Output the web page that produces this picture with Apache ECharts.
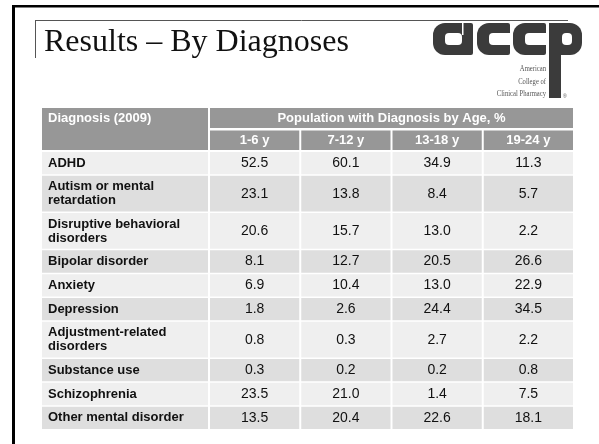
<!DOCTYPE html>
<html>
<head>
<meta charset="utf-8">
<script src="https://cdn.jsdelivr.net/npm/echarts@6/dist/echarts.min.js"></script>
<style>
  html, body { margin: 0; padding: 0; background: #ffffff; }
  #chart { width: 599px; height: 444px; }
</style>
</head>
<body>
<div id="chart"></div>
<script>
// Share of patients with each diagnosis, by age band (2009), in %
const diagnoses = [
  'ADHD',
  'Autism or mental\nretardation',
  'Disruptive behavioral\ndisorders',
  'Bipolar disorder',
  'Anxiety',
  'Depression',
  'Adjustment-related\ndisorders',
  'Substance use',
  'Schizophrenia',
  'Other mental disorder'
];
const ageGroups = ['1-6 y', '7-12 y', '13-18 y', '19-24 y'];
const age1to6   = [52.5, 23.1, 20.6, 8.1, 6.9, 1.8, 0.8, 0.3, 23.5, 13.5];
const age7to12  = [60.1, 13.8, 15.7, 12.7, 10.4, 2.6, 0.3, 0.2, 21.0, 20.4];
const age13to18 = [34.9, 8.4, 13.0, 20.5, 13.0, 24.4, 2.7, 0.2, 1.4, 22.6];
const age19to24 = [11.3, 5.7, 2.2, 26.6, 22.9, 34.5, 2.2, 0.8, 7.5, 18.1];
const firstHeader = 'Diagnosis (2009)';
const groupHeader = 'Population with Diagnosis by Age, %';
const slideTitle = 'Results \u2013 By Diagnoses';
const logoLines = ['American', 'College of', 'Clinical Pharmacy'];

const valueColumns = [age1to6, age7to12, age13to18, age19to24];

// Table geometry in axis units
const labelW = 166, ageW = 89.25, colGap = 2;
const head1H = 20, head1Gap = 2.5, head2H = 19.5, headGap = 2;
const rowGap = 1.5, rowBase = 8.9, lineH = 13.4;

const colX = [[0, labelW]];
for (let i = 0; i < ageGroups.length; i++) {
  const x0 = labelW + colGap + i * (ageW + colGap);
  colX.push([x0, x0 + ageW]);
}
const tableW = colX[colX.length - 1][1];

const cells = [];
// header cells
cells.push({ x0: 0, x1: labelW, y0: 0, y1: head1H + head1Gap + head2H, kind: 'head', text: firstHeader, align: 'left', textY: head1H / 2 });
cells.push({ x0: colX[1][0], x1: tableW, y0: 0, y1: head1H, kind: 'head', text: groupHeader, align: 'center' });
const y2 = head1H + head1Gap;
ageGroups.forEach((g, i) => {
  cells.push({ x0: colX[i + 1][0], x1: colX[i + 1][1], y0: y2, y1: y2 + head2H, kind: 'head', text: g, align: 'center' });
});
// body rows, height follows the number of label lines
let y = y2 + head2H + headGap;
diagnoses.forEach((d, r) => {
  const lines = d.split('\n').length;
  const h = rowBase + lineH * lines;
  const shade = r % 2 === 0 ? 'light' : 'dark';
  cells.push({ x0: colX[0][0], x1: colX[0][1], y0: y, y1: y + h, kind: shade, text: d, align: 'left', bold: true });
  valueColumns.forEach((col, c) => {
    cells.push({ x0: colX[c + 1][0], x1: colX[c + 1][1], y0: y, y1: y + h, kind: shade, text: col[r].toFixed(1), align: 'center' });
  });
  y += h + rowGap;
});
const tableH = y - rowGap;

const fills = { head: '#979797', light: '#efefef', dark: '#dedede' };

const chart = echarts.init(document.getElementById('chart'), null, { renderer: 'canvas' });

const ink = '#3b3b3b';
const logoText = logoLines.map((t, i) => ({
  type: 'text', x: 546, y: 69 + i * 12.5, scaleX: 0.78,
  style: { text: t, font: '8.5px "Liberation Serif", serif', fill: '#555', align: 'right', verticalAlign: 'middle' }
}));

const option = {
  backgroundColor: '#ffffff',
  animation: false,
  grid: { left: 42, top: 108, width: 531, height: 321 },
  xAxis: { type: 'value', min: 0, max: tableW, show: false },
  yAxis: { type: 'value', min: 0, max: tableH, inverse: true, show: false },
  series: [{
    type: 'custom',
    data: cells.map(c => [c.x0, c.y0, c.x1, c.y1]),
    encode: { x: [0, 2], y: [1, 3] },
    renderItem: function (params, api) {
      const c = cells[params.dataIndex];
      const p0 = api.coord([c.x0, c.y0]);
      const p1 = api.coord([c.x1, c.y1]);
      const w = p1[0] - p0[0], h = p1[1] - p0[1];
      const isHead = c.kind === 'head';
      const ty = c.textY != null ? api.coord([0, c.y0 + c.textY])[1] : p0[1] + h / 2;
      const font = isHead || c.bold
        ? 'bold 13px "Liberation Sans", Arial, sans-serif'
        : '14px "Liberation Sans", Arial, sans-serif';
      return {
        type: 'group',
        children: [
          { type: 'rect', shape: { x: p0[0], y: p0[1], width: w, height: h }, style: { fill: fills[c.kind] } },
          {
            type: 'text',
            x: c.align === 'left' ? p0[0] + 6 : p0[0] + w / 2,
            y: ty,
            style: {
              text: c.text,
              fill: isHead ? '#ffffff' : '#111111',
              font: font,
              align: c.align,
              verticalAlign: 'middle',
              lineHeight: 14
            }
          }
        ]
      };
    }
  }],
  graphic: [
    // slide frame
    { type: 'rect', shape: { x: 12, y: 5, width: 587, height: 2.5 }, style: { fill: '#000' } },
    { type: 'rect', shape: { x: 12, y: 5, width: 3, height: 439 }, style: { fill: '#000' } },
    // title frame
    { type: 'line', shape: { x1: 35, y1: 20.5, x2: 568, y2: 20.5 }, style: { stroke: '#555', lineWidth: 1 } },
    { type: 'line', shape: { x1: 35.5, y1: 20, x2: 35.5, y2: 58 }, style: { stroke: '#555', lineWidth: 1 } },
    { type: 'text', x: 44, y: 43, style: { text: slideTitle, font: '32px "Liberation Serif", "Times New Roman", serif', fill: '#111', verticalAlign: 'middle' } },
    // logo
    { type: 'rect', shape: { x: 433, y: 23, width: 40, height: 32, r: [12, 2, 2, 12] }, style: { fill: ink } },
    { type: 'rect', shape: { x: 445, y: 33, width: 17, height: 12, r: 4 }, style: { fill: '#fff' } },
    { type: 'rect', shape: { x: 462, y: 23, width: 1.5, height: 12 }, style: { fill: '#fff' } },
    { type: 'rect', shape: { x: 477, y: 23, width: 33, height: 32, r: [12, 2, 2, 12] }, style: { fill: ink } },
    { type: 'rect', shape: { x: 489, y: 33, width: 22, height: 12, r: [4, 0, 0, 4] }, style: { fill: '#fff' } },
    { type: 'rect', shape: { x: 513, y: 23, width: 33, height: 32, r: [12, 2, 2, 12] }, style: { fill: ink } },
    { type: 'rect', shape: { x: 525, y: 33, width: 22, height: 12, r: [4, 0, 0, 4] }, style: { fill: '#fff' } },
    { type: 'rect', shape: { x: 549, y: 23, width: 33, height: 32, r: [2, 12, 12, 2] }, style: { fill: ink } },
    { type: 'rect', shape: { x: 562, y: 33, width: 10, height: 12, r: 4 }, style: { fill: '#fff' } },
    { type: 'rect', shape: { x: 549, y: 23, width: 12, height: 75 }, style: { fill: ink } },
    { type: 'text', x: 563, y: 97, style: { text: '\u00ae', font: '5px "Liberation Sans", sans-serif', fill: '#555', verticalAlign: 'middle' } }
  ].concat(logoText)
};
chart.setOption(option);
</script>
</body>
</html>
